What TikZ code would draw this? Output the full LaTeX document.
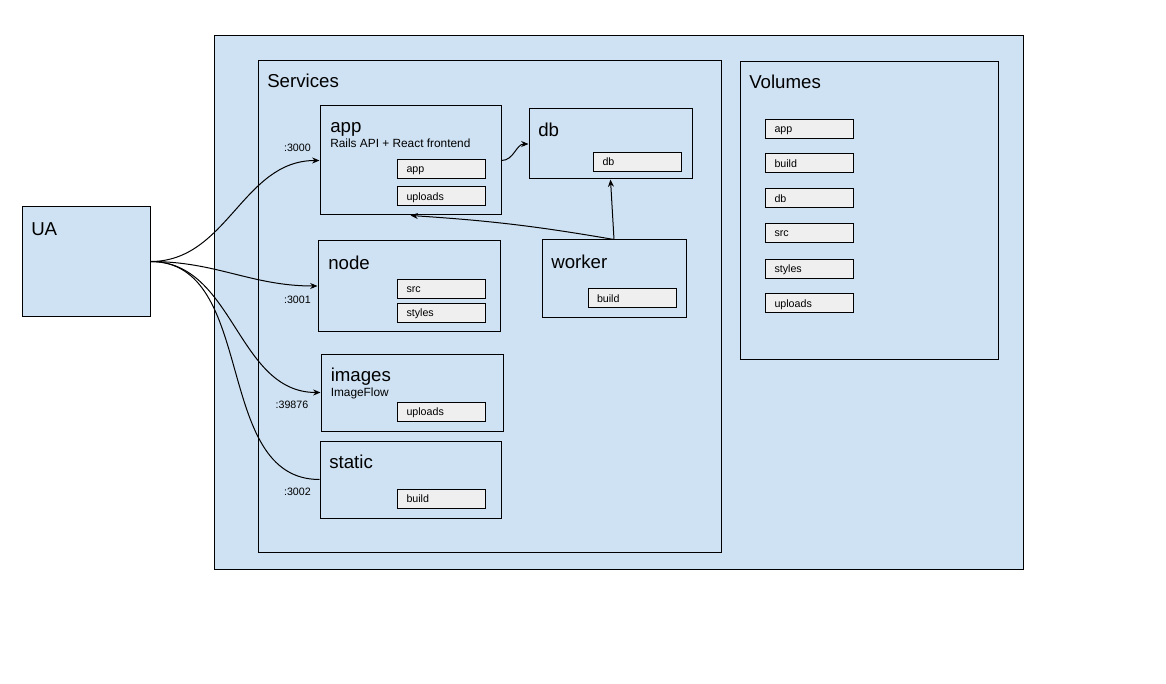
\documentclass[tikz,border=0pt]{standalone}
\usepackage{fontspec}
\setmainfont{Liberation Sans}
\usetikzlibrary{fit}
\usetikzlibrary{arrows.meta}

\definecolor{paneblue}{RGB}{207,226,243}
\definecolor{chipgray}{RGB}{239,239,239}

\begin{document}
\begin{tikzpicture}[x=0.75pt, y=-0.75pt,
  box/.style={draw, fill=paneblue, line width=0.75pt, inner sep=0pt},
  chip/.style={draw, fill=chipgray, line width=0.75pt, anchor=north west,
    text width=52.5pt, inner xsep=6.75pt, inner ysep=0pt, minimum height=14.25pt,
    text height=7pt, text depth=1pt, font=\fontsize{8}{9}\selectfont},
  title/.style={anchor=base west, inner sep=0pt, font=\fontsize{14}{16}\selectfont},
  sub/.style={anchor=base west, inner sep=0pt, font=\fontsize{8.9}{10}\selectfont},
  port/.style={anchor=base east, inner sep=0pt, font=\fontsize{8}{9}\selectfont},
  link/.style={line width=0.75pt, -{Stealth[length=5.5pt,width=4.5pt]}}]

  \useasboundingbox (0,0) rectangle (1166,684);

  % panes
  \node[box, fit={(214,36) (1023,569)}] (host) {};
  \node[box, fit={(258,61) (721,552)}] (services) {};
  \node[box, fit={(740,62) (998,359)}] (volumes) {};
  \node[box, fit={(22,207) (150,316)}] (ua) {};
  \node[title] (uatitle) at (31,235) {UA};
  \node[title] (servicestitle) at (267,88) {Services};
  \node[title] (volumestitle) at (749,89) {Volumes};

  % services
  \node[box, fit={(320,106) (501,215)}] (app) {};
  \node[title] (apptitle) at (330,133) {app};
  \node[sub] (appsub) at (330,148) {Rails API + React frontend};
  \node[chip] (appapp) at (397,159) {app};
  \node[chip] (appuploads) at (397,186.5) {uploads};

  \node[box, fit={(529,109) (692,179)}] (db) {};
  \node[title] (dbtitle) at (538,137) {db};
  \node[chip] (dbdb) at (593,152) {db};

  \node[box, fit={(318,241) (500,331)}] (node) {};
  \node[title] (nodetitle) at (328,269) {node};
  \node[chip] (nodesrc) at (397,278.5) {src};
  \node[chip] (nodestyles) at (397,302.5) {styles};

  \node[box, fit={(542,240) (686,317)}] (worker) {};
  \node[title] (workertitle) at (551,268) {worker};
  \node[chip] (workerbuild) at (587.5,288) {build};

  \node[box, fit={(321,354) (503,431)}] (images) {};
  \node[title] (imagestitle) at (330.5,381) {images};
  \node[sub] (imagessub) at (330.5,396) {ImageFlow};
  \node[chip] (imagesuploads) at (397,401.5) {uploads};

  \node[box, fit={(320,441) (501,518)}] (static) {};
  \node[title] (statictitle) at (329,468) {static};
  \node[chip] (staticbuild) at (397,488.5) {build};

  % volume list
  \node[chip] (volapp) at (765,119) {app};
  \node[chip] (volbuild) at (765,153.5) {build};
  \node[chip] (voldb) at (765,188.5) {db};
  \node[chip] (volsrc) at (765,223) {src};
  \node[chip] (volstyles) at (765,258.5) {styles};
  \node[chip] (voluploads) at (765,293) {uploads};

  % ports
  \node[port] (p3000) at (311,152) {:3000};
  \node[port] (p3001) at (311,303) {:3001};
  \node[port] (p39876) at (308.5,408) {:39876};
  \node[port] (p3002) at (311,495) {:3002};

  % links
  \draw[link] (ua.east) to[out=0, in=180] (app.west);
  \draw[link] (ua.east) to[out=0, in=180] (node.west);
  \draw[link] (ua.east) to[out=0, in=180] (images.west);
  \draw[line width=0.75pt] (ua.east) to[out=0, in=180] (static.west);
  \draw[link] (app.east) to[out=0, in=180] (db.west);
  \draw[link] (worker.north) -- (db.south);
  \draw[link] (worker.north) to[bend right=3] (app.south);
\end{tikzpicture}
\end{document}
